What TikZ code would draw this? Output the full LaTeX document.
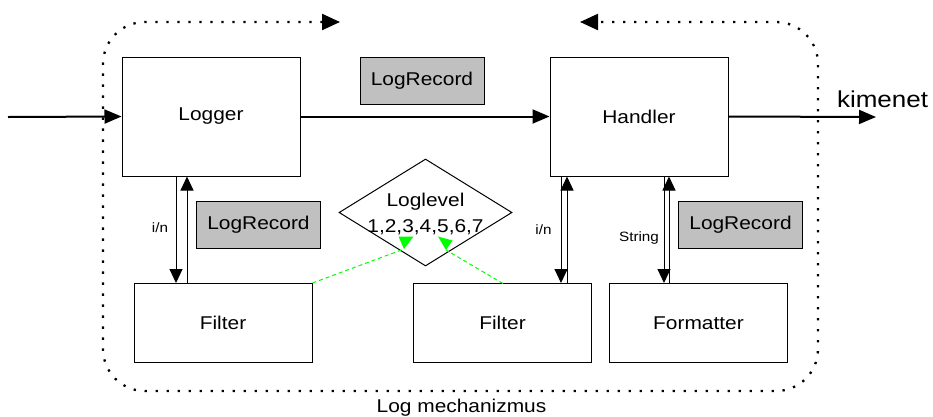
\documentclass[tikz,border=0pt]{standalone}
\usepackage{fontspec}
\setmainfont{Liberation Sans}[FakeStretch=1.13]
\usetikzlibrary{arrows.meta,shapes.geometric}
\definecolor{recgray}{RGB}{192,192,192}
\definecolor{lvlgreen}{RGB}{0,255,0}
\tikzset{
  box/.style={draw, line width=1pt, minimum width=178pt, inner sep=0pt,
              font=\fontsize{18.5}{22}\selectfont},
  recbox/.style={draw, line width=1pt, fill=recgray, minimum width=124pt,
                 minimum height=47pt, inner sep=0pt, font=\fontsize{18.5}{22}\selectfont},
  flow/.style={line width=1pt, -{Triangle[length=14pt,width=13pt]}},
  mainflow/.style={line width=2pt, -{Triangle[length=17pt,width=14pt]}},
  frame/.style={line width=2.3pt, dash pattern=on 2.3pt off 8.7pt, rounded corners=42pt,
                {Triangle[length=18pt,width=16pt]}-{Triangle[length=18pt,width=16pt]}},
  lvl/.style={lvlgreen, line width=1pt, dash pattern=on 4pt off 3pt},
  small/.style={font=\fontsize{13.5}{16}\selectfont, inner sep=0pt, anchor=base},
  big/.style={font=\fontsize{18.5}{22}\selectfont, inner sep=0pt, anchor=base},
}
\begin{document}
\begin{tikzpicture}[x=1pt,y=-1pt]
\useasboundingbox (0,0) rectangle (933,416);

% main components
\node[box, minimum height=119pt] (logger) at (211,116.5) {Logger};
\node[box, minimum height=119pt] (handler) at (639,116.5) {Handler};
\node[box, minimum height=79pt] (filt1) at (223,323) {Filter};
\node[box, minimum height=79pt] (filt2) at (502.5,323) {Filter};
\node[box, minimum height=79pt] (fmt) at (698.5,323) {Formatter};

% records passed around
\node[recbox] (rec1) at (422,81) {LogRecord};
\node[recbox] (rec2) at (258.5,224.5) {LogRecord};
\node[recbox] (rec3) at (740.5,224.5) {LogRecord};

% level selector
\node[draw, diamond, line width=1pt, minimum width=173pt, minimum height=107pt,
      inner sep=0pt] (lvl) at (425.5,212.5) {};
\node[font=\fontsize{18.5}{26}\selectfont, align=center, inner sep=0pt]
      (lvltext) at (425.5,214) {Loglevel\\1,2,3,4,5,6,7};

% boundary of the mechanism
\coordinate (fl) at (340,22);
\coordinate (fr) at (580,22);
\draw[frame] (fl) -- (103,22) -- (103,391) -- (818,391) -- (818,22) -- (fr);
\node[big] (mech) at (461.5,412) {Log mechanizmus};

% input and output
\coordinate (in) at (8,117);
\coordinate (out) at (876,117);
\draw[mainflow] (in) -- (logger.west);
\draw[mainflow] (logger.east) -- (handler.west);
\draw[mainflow] (handler.east) -- (out);
\node[font=\fontsize{23}{26}\selectfont, inner sep=0pt, anchor=base] (kim) at (882.5,107) {kimenet};

% logger <-> filter
\draw[flow] ([xshift=-35pt]logger.south) -- ([xshift=-35pt]logger.south |- filt1.north);
\draw[flow] ([xshift=-24pt]logger.south |- filt1.north) -- ([xshift=-24pt]logger.south);
\node[small] (in1) at (160,232) {i/n};

% handler <-> filter
\draw[flow] ([xshift=-78pt]handler.south) -- ([xshift=-78pt]handler.south |- filt2.north);
\draw[flow] ([xshift=-72pt]handler.south |- filt2.north) -- ([xshift=-72pt]handler.south);
\node[small] (in2) at (543.5,234) {i/n};

% handler <-> formatter
\draw[flow] ([xshift=25pt]handler.south) -- ([xshift=25pt]handler.south |- fmt.north);
\draw[flow] ([xshift=30pt]handler.south |- fmt.north) -- ([xshift=30pt]handler.south);
\node[small] (str) at (639,241) {String};

% filters consult the level
\coordinate (g1) at (404,249);
\coordinate (g2) at (446,250);
\coordinate (f2top) at (503,283.5);
\draw[lvl] (filt1.north east) -- (g1);
\draw[lvl] (f2top) -- (g2);
\fill[lvlgreen] (g1) -- (398.5,236.5) -- (413.5,236.5) -- cycle;
\fill[lvlgreen] (g2) -- (438,236.5) -- (452.5,240.5) -- cycle;
\end{tikzpicture}
\end{document}
